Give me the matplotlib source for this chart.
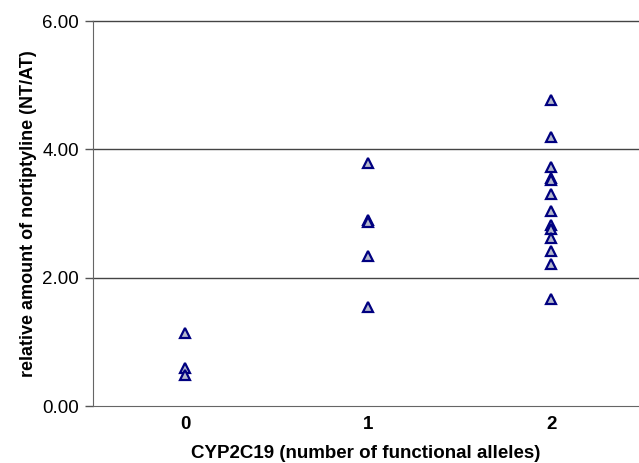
import numpy as np
import matplotlib.pyplot as plt

plt.rcParams['font.family'] = ['Liberation Sans', 'DejaVu Sans']

# NT/AT ratio per patient, grouped by number of functional CYP2C19 alleles
categories = ['0', '1', '2']
ratio_0 = [1.14, 0.59, 0.49]
ratio_1 = [3.79, 2.90, 2.87, 2.34, 1.55]
ratio_2 = [4.77, 4.19, 3.73, 3.56, 3.52, 3.30, 3.04, 2.82, 2.76, 2.62, 2.41, 2.21, 1.67]
groups = [ratio_0, ratio_1, ratio_2]

y_ticks = [0, 2, 4, 6]
y_ticklabels = ['0.00', '2.00', '4.00', '6.00']

fig = plt.figure(figsize=(6.39, 4.63), dpi=100)
ax = fig.add_axes([0.1455, 0.1231, 0.8545, 0.8315])

for i, vals in enumerate(groups):
    ax.plot([i] * len(vals), vals, linestyle='none', marker='^',
            markersize=6.5, markeredgewidth=1.6,
            markeredgecolor='#000080', markerfacecolor='#b4b8cc')

ax.set_xlim(-0.503, 2.48)
ax.set_ylim(0, 6)
ax.set_xticks(range(len(categories)))
ax.set_xticklabels(categories, fontsize=13.5, fontweight='bold')
ax.set_yticks(y_ticks)
ax.set_yticklabels(y_ticklabels, fontsize=13.5)

ax.tick_params(axis='x', length=0, pad=7)
ax.tick_params(axis='y', length=6, width=1, color='#555555', pad=4)

for y in y_ticks[1:]:
    ax.axhline(y, color='#444444', linewidth=1, clip_on=False, zorder=1)

for side in ['top', 'right']:
    ax.spines[side].set_visible(False)
ax.spines['left'].set_color('#666666')
ax.spines['bottom'].set_color('#666666')

ax.set_xlabel('CYP2C19 (number of functional alleles)', fontsize=13.5,
              fontweight='bold', labelpad=9)
ax.set_ylabel('relative amount of nortiptyline (NT/AT)', fontsize=13,
              fontweight='bold', labelpad=4)

fig.savefig('out.png', dpi=100)
